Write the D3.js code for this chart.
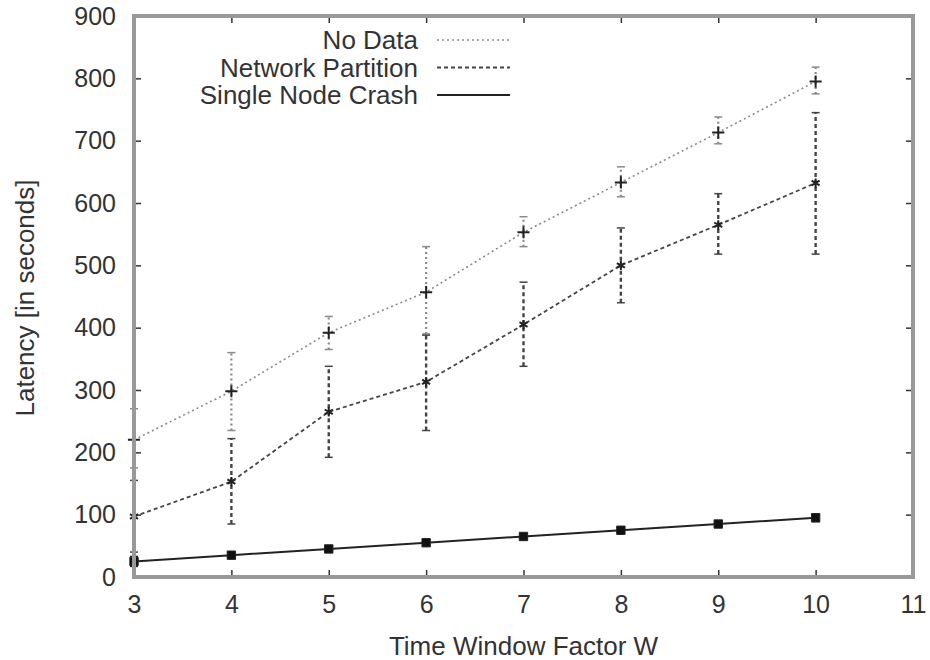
<!DOCTYPE html>
<html>
<head>
<meta charset="utf-8">
<script src="https://cdn.jsdelivr.net/npm/d3@7"></script>
<style>
  body { margin: 0; background: #fff; }
  text { font-family: "Liberation Sans", Arial, sans-serif; fill: #333; }
</style>
</head>
<body>
<div id="myPlot"></div>
<script>
// Set Dimensions
const xSize = 930;
const ySize = 660;
const margin = { top: 16, right: 17, bottom: 83, left: 134 };
const xMax = xSize - margin.left - margin.right;
const yMax = ySize - margin.top - margin.bottom;

// Data
const windowFactor = [3, 4, 5, 6, 7, 8, 9, 10];

// [mean, low, high]
const no_data = [
  [220, 175, 270], [298, 235, 360], [392, 365, 418], [457, 390, 530],
  [553, 530, 578], [633, 610, 658], [713, 695, 738], [795, 775, 818]
];
const network_partition = [
  [97, 40, 155], [153, 85, 222], [265, 192, 338], [313, 235, 388],
  [405, 338, 473], [500, 440, 560], [565, 518, 615], [632, 518, 745]
];
const node_crash = [
  [25, 17, 33], [35, 31, 39], [45, 41, 49], [55, 51, 59],
  [65, 61, 69], [75, 71, 79], [85, 81, 89], [95, 89, 101]
];

const xTicks = [3, 4, 5, 6, 7, 8, 9, 10, 11];
const yTicks = [0, 100, 200, 300, 400, 500, 600, 700, 800, 900];

const seriesNames = ["No Data", "Network Partition", "Single Node Crash"];

// Append SVG Object to the Page
const svg = d3.select("#myPlot")
  .append("svg")
  .attr("width", xSize)
  .attr("height", ySize)
  .append("g")
  .attr("transform", `translate(${margin.left},${margin.top})`);

// Scales
const x = d3.scaleLinear().domain([3, 11]).range([0, xMax]);
const y = d3.scaleLinear().domain([0, 900]).range([yMax, 0]);

// Axes (gnuplot style, ticks inward, mirrored)
const tickLen = 7;
const axisStyle = g => {
  g.select(".domain").remove();
  g.selectAll(".tick line").attr("stroke", "#333").attr("stroke-width", 1.5);
  g.selectAll(".tick text").style("font-size", "25px").attr("fill", "#333");
};

svg.append("g")
  .attr("transform", `translate(0, ${yMax})`)
  .call(d3.axisBottom(x).tickValues(xTicks).tickFormat(d3.format("d"))
    .tickSizeInner(-tickLen).tickSizeOuter(0).tickPadding(18))
  .call(axisStyle);

svg.append("g")
  .call(d3.axisLeft(y).tickValues(yTicks).tickSizeInner(-tickLen)
    .tickSizeOuter(0).tickPadding(18))
  .call(axisStyle);

svg.append("g")
  .call(d3.axisTop(x).tickValues(xTicks).tickFormat("").tickSizeInner(-tickLen).tickSizeOuter(0))
  .call(axisStyle);

svg.append("g")
  .attr("transform", `translate(${xMax}, 0)`)
  .call(d3.axisRight(y).tickValues(yTicks).tickFormat("").tickSizeInner(-tickLen).tickSizeOuter(0))
  .call(axisStyle);

// Series styling
const styles = [
  { data: no_data, color: "#8a8a8a", dash: "2,3", width: 1.6, marker: d3.symbolPlus, msize: 50 },
  { data: network_partition, color: "#444", dash: "4,3", width: 1.8, marker: d3.symbolAsterisk, msize: 60 },
  { data: node_crash, color: "#222", dash: null, width: 2, marker: d3.symbolSquare, msize: 70 }
];

const line = d3.line()
  .x((d, i) => x(windowFactor[i]))
  .y(d => y(d[0]));

styles.forEach(s => {
  const g = svg.append("g");

  // error bars
  g.selectAll(".err")
    .data(s.data)
    .enter()
    .append("line")
    .attr("x1", (d, i) => x(windowFactor[i]))
    .attr("x2", (d, i) => x(windowFactor[i]))
    .attr("y1", d => y(d[1]))
    .attr("y2", d => y(d[2]))
    .attr("stroke", s.color)
    .attr("stroke-width", s.width + 0.6)
    .attr("stroke-dasharray", s.dash);

  // caps
  [1, 2].forEach(k => {
    g.selectAll(".cap" + k)
      .data(s.data)
      .enter()
      .append("line")
      .attr("x1", (d, i) => x(windowFactor[i]) - 4)
      .attr("x2", (d, i) => x(windowFactor[i]) + 4)
      .attr("y1", d => y(d[k]))
      .attr("y2", d => y(d[k]))
      .attr("stroke", s.color)
      .attr("stroke-width", 1.5);
  });

  // line
  g.append("path")
    .datum(s.data)
    .attr("d", line)
    .attr("fill", "none")
    .attr("stroke", s.color)
    .attr("stroke-width", s.width)
    .attr("stroke-dasharray", s.dash);

  // markers
  const filled = s.marker === d3.symbolSquare;
  g.selectAll(".pt")
    .data(s.data)
    .enter()
    .append("path")
    .attr("transform", (d, i) => `translate(${x(windowFactor[i])},${y(d[0])})`)
    .attr("d", d3.symbol().type(s.marker).size(s.msize))
    .attr("fill", filled ? "#111" : "none")
    .attr("stroke", "#222")
    .attr("stroke-width", filled ? 1 : 2);
});

// Frame
svg.append("rect")
  .attr("x", 0)
  .attr("y", 0)
  .attr("width", xMax)
  .attr("height", yMax)
  .attr("fill", "none")
  .attr("stroke", "#999")
  .attr("stroke-width", 4);

// Legend
const legend = svg.append("g")
  .attr("transform", `translate(${418 - margin.left}, ${40 - margin.top})`);

styles.forEach((s, i) => {
  legend.append("text")
    .attr("x", 0)
    .attr("y", i * 27.5)
    .attr("dy", "0.35em")
    .style("font-size", "26px")
    .style("text-anchor", "end")
    .text(seriesNames[i]);
  legend.append("line")
    .attr("x1", 19)
    .attr("x2", 92)
    .attr("y1", i * 27.5)
    .attr("y2", i * 27.5)
    .attr("stroke", s.color)
    .attr("stroke-width", s.width)
    .attr("stroke-dasharray", s.dash);
});

// Axis labels
svg.append("text")
  .attr("x", xMax / 2)
  .attr("y", yMax + 78)
  .style("font-size", "26px")
  .style("text-anchor", "middle")
  .text("Time Window Factor W");

svg.append("text")
  .attr("transform", "rotate(-90)")
  .attr("x", -282)
  .attr("y", -100)
  .style("font-size", "26px")
  .style("text-anchor", "middle")
  .text("Latency [in seconds]");
</script>
</body>
</html>
